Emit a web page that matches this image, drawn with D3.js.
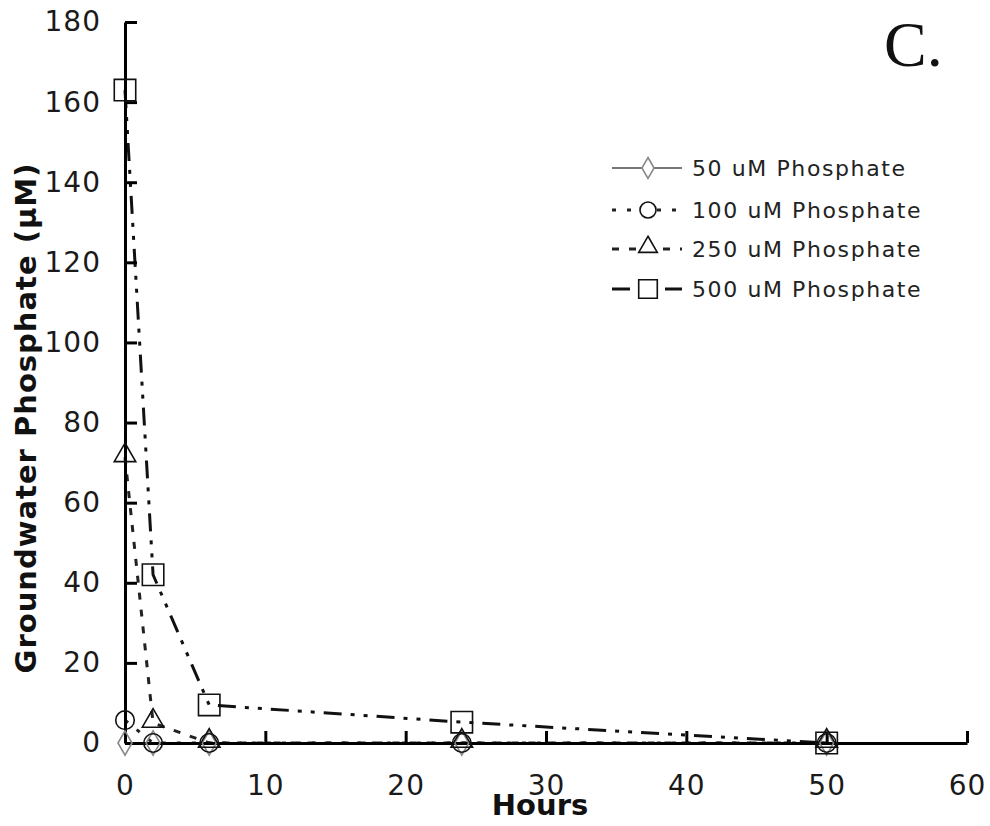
<!DOCTYPE html>
<html>
<head>
<meta charset="utf-8">
<title>Groundwater phosphate</title>
<script src="https://cdnjs.cloudflare.com/ajax/libs/d3/7.8.5/d3.min.js"></script>
<style>
  body { margin: 0; background: #fff; }
  text { font-family: "DejaVu Sans", Verdana, sans-serif; }
</style>
</head>
<body>
<script>
var hours = [0, 2, 6, 24, 50];
var p50 = [0, 0, 0, 0, 0];
var p100 = [5.7, 0, 0, 0, 0];
var p250 = [71.3, 5, 0, 0, 0];
var p500 = [163, 42, 9.5, 5.2, 0];
var seriesNames = ["50 uM Phosphate", "100 uM Phosphate", "250 uM Phosphate", "500 uM Phosphate"];
var xTicks = [0, 10, 20, 30, 40, 50, 60];
var yTicks = [0, 20, 40, 60, 80, 100, 120, 140, 160, 180];

var W = 990, H = 826;
var svg = d3.select("body").append("svg").attr("width", W).attr("height", H);

var x = d3.scaleLinear().domain([0, 60]).range([125, 967]);
var y = d3.scaleLinear().domain([0, 180]).range([743, 22]);

var series = [
  { name: seriesNames[0], vals: p50, sym: d3.symbolDiamond, size: 170, color: "#777", width: 2, dash: null },
  { name: seriesNames[1], vals: p100, sym: d3.symbolCircle, size: 270, color: "#222", width: 3, dash: "4,11" },
  { name: seriesNames[2], vals: p250, sym: d3.symbolTriangle, size: 200, color: "#222", width: 3, dash: "7,10" },
  { name: seriesNames[3], vals: p500, sym: d3.symbolSquare, size: 460, color: "#111", width: 3, dash: "18,9,4,9,4,9" }
];

var line = d3.line().x(function(d) { return x(d[0]); }).y(function(d) { return y(d[1]); });

// lines
series.forEach(function(s) {
  svg.append("path")
    .attr("d", line(d3.zip(hours, s.vals)))
    .attr("fill", "none")
    .attr("stroke", s.color)
    .attr("stroke-width", s.width)
    .attr("stroke-dasharray", s.dash);
});

// axes
var xAxis = svg.append("g")
  .attr("transform", "translate(0," + y(0) + ")")
  .call(d3.axisBottom(x).tickValues(xTicks).tickSizeInner(-12).tickSizeOuter(0).tickPadding(32));
var yAxis = svg.append("g")
  .attr("transform", "translate(" + x(0) + ",0)")
  .call(d3.axisLeft(y).tickValues(yTicks).tickSizeInner(-12).tickSizeOuter(0).tickPadding(24));
[xAxis, yAxis].forEach(function(a) {
  a.select(".domain").attr("stroke", "#000").attr("stroke-width", 3);
  a.selectAll(".tick line").attr("stroke", "#000").attr("stroke-width", 3);
  a.selectAll(".tick text").attr("font-size", 28).attr("fill", "#1a1a1a")
    .attr("letter-spacing", 1)
    .attr("font-family", "DejaVu Sans, Verdana, sans-serif");
});

// markers
series.forEach(function(s) {
  svg.append("g").selectAll("path")
    .data(d3.zip(hours, s.vals))
    .join("path")
    .attr("transform", function(d) {
      var dy = s.sym === d3.symbolTriangle ? -2 : 0;
      return "translate(" + x(d[0]) + "," + (y(d[1]) + dy) + ")";
    })
    .attr("d", d3.symbol().type(s.sym).size(s.size))
    .attr("fill", "none")
    .attr("stroke", s.sym === d3.symbolDiamond ? "#888" : "#111")
    .attr("stroke-width", 1.6);
});

// axis titles
svg.append("text")
  .attr("x", 540).attr("y", 815)
  .attr("text-anchor", "middle")
  .attr("font-size", 29).attr("font-weight", "bold").attr("fill", "#111")
  .text("Hours");
svg.append("text")
  .attr("transform", "translate(36,418) rotate(-90)")
  .attr("text-anchor", "middle")
  .attr("font-size", 29).attr("font-weight", "bold").attr("fill", "#111")
  .attr("letter-spacing", 1)
  .text("Groundwater Phosphate (\u03bcM)");

// panel label
svg.append("text")
  .attr("x", 884).attr("y", 66)
  .style("font-family", "'Liberation Serif', serif")
  .attr("font-size", 64).attr("fill", "#111")
  .text("C.");

// legend
var lg = svg.append("g");
var rows = [168, 210, 249, 289];
series.forEach(function(s, i) {
  lg.append("line")
    .attr("x1", 612).attr("x2", 682)
    .attr("y1", rows[i]).attr("y2", rows[i])
    .attr("stroke", s.color).attr("stroke-width", s.width)
    .attr("stroke-dasharray", s.dash);
  lg.append("path")
    .attr("transform", "translate(648," + (rows[i] + (s.sym === d3.symbolTriangle ? -2 : 0)) + ")")
    .attr("d", d3.symbol().type(s.sym).size(s.size * 0.75))
    .attr("fill", "#fff")
    .attr("stroke", s.sym === d3.symbolDiamond ? "#888" : "#111")
    .attr("stroke-width", 1.6);
  lg.append("text")
    .attr("x", 692).attr("y", rows[i] + 8)
    .attr("font-size", 22).attr("fill", "#222")
    .attr("letter-spacing", 1.6)
    .text(s.name);
});
</script>
</body>
</html>
